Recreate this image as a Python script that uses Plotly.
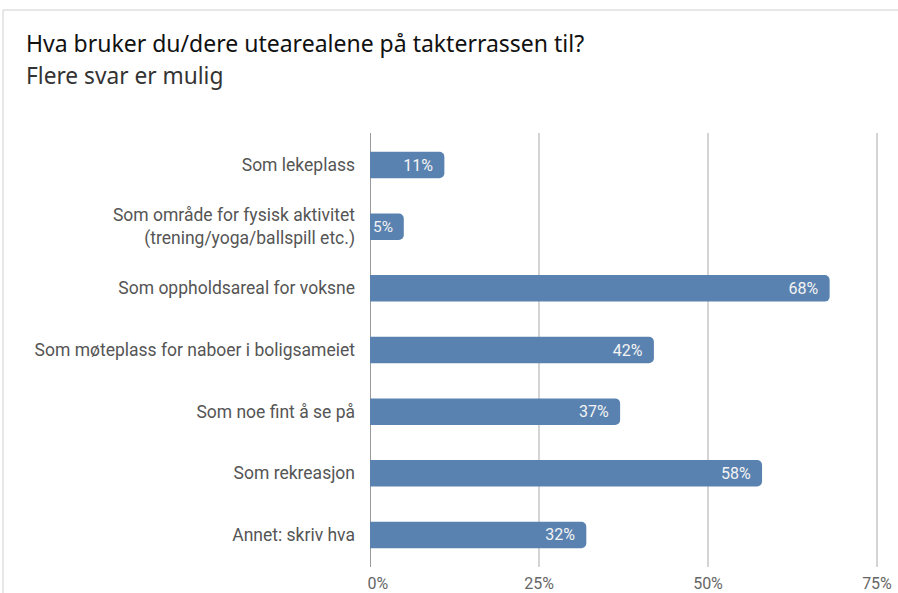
import plotly.graph_objects as go

# --- data --------------------------------------------------------------------
categories = [
    "Som lekeplass",
    "Som område for fysisk aktivitet<br>(trening/yoga/ballspill etc.)",
    "Som oppholdsareal for voksne",
    "Som møteplass for naboer i boligsameiet",
    "Som noe fint å se på",
    "Som rekreasjon",
    "Annet: skriv hva",
]
shares = [11, 5, 68, 42, 37, 58, 32]
tick_vals = [0, 25, 50, 75]
tick_text = ["\u00a0\u00a0\u00a0\u00a00%", "25%", "50%", "75%"]

TITLE = "Hva bruker du/dere utearealene på takterrassen til?"
SUBTITLE = "Flere svar er mulig"

BAR = "#5a82b0"
INK = "#555555"
GRID = "#d4d4d4"
FRAME = "#cfcfcf"

# plot area in pixels (898x593 canvas)
L, R, T, B = 370, 879, 133, 567
W, H = 898, 593


def px_x(p):
    return (p - L) / (R - L)


def px_y(p):
    return (B - p) / (B - T)


fig = go.Figure(go.Bar(
    y=categories, x=shares, orientation="h",
    marker=dict(color=BAR, line=dict(width=0)),
    text=[f"{v}%\u00a0\u00a0" for v in shares], textposition="inside", insidetextanchor="end",
    textfont=dict(family="Roboto", size=16, color="#f4f4f4"),
    constraintext="none", cliponaxis=False,
    hovertemplate="%{y}: %{x}%<extra></extra>",
))

fig.update_layout(
    width=W, height=H,
    paper_bgcolor="white", plot_bgcolor="white",
    margin=dict(l=L, r=W - R, t=T, b=H - B, autoexpand=False),
    showlegend=False, bargap=0.57, barcornerradius=5,
    font=dict(family="Roboto", size=17.5, color=INK),
)
fig.update_xaxes(
    range=[0, 75.3], tickvals=tick_vals, ticktext=tick_text,
    showgrid=True, gridcolor=GRID, gridwidth=1.5, zeroline=False,
    showline=False, ticks="", ticklabelstandoff=5,
    tickfont=dict(size=16, color="#666666"), automargin=False,
)
fig.update_yaxes(
    range=[6.52, -0.52], showgrid=False, zeroline=False, showline=False,
    ticks="", ticklabelstandoff=14, tickfont=dict(size=17.5, color=INK),
    automargin=False,
)

# darker baseline at 0
fig.add_shape(type="line", xref="x", yref="paper", x0=0, x1=0, y0=0, y1=1,
              line=dict(color="#9a9a9a", width=2), layer="below")

# outer card frame (top and left edges)
fig.add_shape(type="line", xref="paper", yref="paper",
              x0=px_x(3), x1=px_x(W), y0=px_y(10), y1=px_y(10),
              line=dict(color=FRAME, width=1))
fig.add_shape(type="line", xref="paper", yref="paper",
              x0=px_x(3), x1=px_x(3), y0=px_y(10), y1=px_y(H),
              line=dict(color=FRAME, width=1))

fig.add_annotation(text=TITLE, xref="paper", yref="paper", x=px_x(24), y=px_y(43),
                   xanchor="left", yanchor="middle", showarrow=False,
                   font=dict(family="Noto Sans", size=23, color="#111111"))
fig.add_annotation(text=SUBTITLE, xref="paper", yref="paper", x=px_x(24), y=px_y(75),
                   xanchor="left", yanchor="middle", showarrow=False,
                   font=dict(family="Noto Sans", size=22.7, color="#333333"))

fig.write_html("out.html", config={"displayModeBar": False},
               post_script="document.body.style.margin='0';")
